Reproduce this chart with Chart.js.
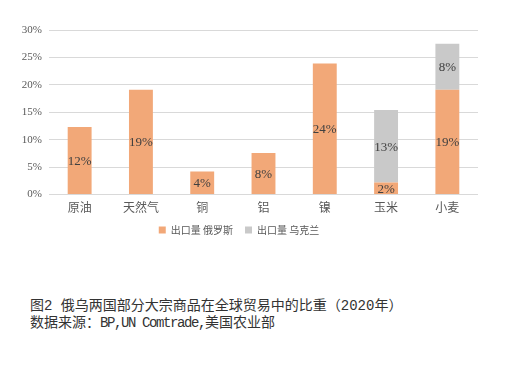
<!DOCTYPE html>
<html>
<head>
<meta charset="utf-8">
<script src="https://cdn.jsdelivr.net/npm/chart.js@4.4.0/dist/chart.umd.min.js"></script>
<style>
  body { margin: 0; background: #fff; width: 521px; height: 365px; overflow: hidden; position: relative; }
  .chart-box { position: absolute; left: 0; top: 0; width: 521px; height: 251px; }
  .caption { position: absolute; left: 30px; font-size: 14px; color: #333; white-space: nowrap;
             font-family: 'Liberation Mono', 'Noto Sans CJK SC', sans-serif; }
  .caption .latin { letter-spacing: -1.4px; }
</style>
</head>
<body>
<div class="chart-box"><canvas id="myChart"></canvas></div>
<div class="caption" style="top:294px">图2 俄乌两国部分大宗商品在全球贸易中的比重（2020年）</div>
<div class="caption" style="top:311px">数据来源：<span class="latin">BP,UN Comtrade,</span>美国农业部</div>
<script>
// --- data ---
const categories = ['原油', '天然气', '铜', '铝', '镍', '玉米', '小麦'];
const russiaShare = [12.3, 19.1, 4.2, 7.6, 23.9, 2.2, 19.1];
const ukraineShare = [null, null, null, null, null, 13.2, 8.4];
const seriesNames = ['出口量 俄罗斯', '出口量 乌克兰'];
const yMax = 30;
const yStep = 5;

// labels in the middle of every bar segment
const barLabels = {
  id: 'barLabels',
  afterDatasetsDraw(chart) {
    const ctx = chart.ctx;
    ctx.save();
    ctx.font = '13px "Liberation Serif", serif';
    ctx.fillStyle = '#404040';
    ctx.textAlign = 'center';
    ctx.textBaseline = 'middle';
    chart.data.datasets.forEach((ds, i) => {
      const meta = chart.getDatasetMeta(i);
      meta.data.forEach((bar, j) => {
        const v = ds.data[j];
        if (v == null) return;
        ctx.fillText(Math.round(v) + '%', bar.x, (bar.y + bar.base) / 2 + 1);
      });
    });
    ctx.restore();
  }
};

const ctx = document.getElementById('myChart').getContext('2d');
new Chart(ctx, {
  type: 'bar',
  data: {
    labels: categories,
    datasets: [
      { label: seriesNames[0], data: russiaShare, backgroundColor: '#F2A878' },
      { label: seriesNames[1], data: ukraineShare, backgroundColor: '#C9C9C9' }
    ]
  },
  options: {
    responsive: true,
    maintainAspectRatio: false,
    animation: false,
    layout: { padding: { top: 30, right: 43, left: 0, bottom: 6 } },
    datasets: { bar: { categoryPercentage: 1, barPercentage: 0.39 } },
    scales: {
      x: {
        stacked: true,
        grid: { display: false },
        border: { display: false },
        ticks: { color: '#595959', font: { size: 12, family: '"Noto Sans CJK SC", sans-serif' }, padding: -2 }
      },
      y: {
        stacked: true,
        min: 0,
        max: yMax,
        afterFit(scale) { scale.width = 49; },
        grid: { color: '#D9D9D9', drawTicks: false },
        border: { display: false },
        ticks: {
          stepSize: yStep,
          padding: 7,
          color: '#595959',
          font: { size: 11, family: '"Liberation Serif", serif' },
          callback: v => v + '%'
        }
      }
    },
    plugins: {
      legend: {
        position: 'bottom',
        labels: {
          boxWidth: 7,
          boxHeight: 7,
          padding: 12,
          color: '#595959',
          font: { size: 10, family: '"Noto Sans CJK SC", sans-serif' }
        }
      },
      tooltip: { enabled: false }
    }
  },
  plugins: [barLabels]
});
</script>
</body>
</html>
